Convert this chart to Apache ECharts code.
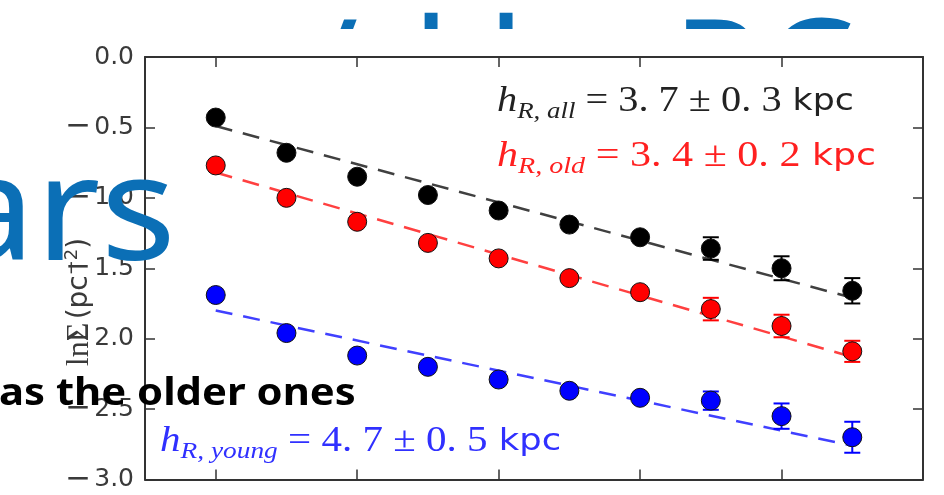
<!DOCTYPE html>
<html><head><meta charset="utf-8">
<script src="https://cdn.jsdelivr.net/npm/echarts@6/dist/echarts.min.js"></script>
<style>html,body{margin:0;padding:0;background:#fff}#c{width:944px;height:495px}</style>
</head><body><div id="c"></div>
<script>
// ---- data ----
const radius = [6.0, 6.5, 7.0, 7.5, 8.0, 8.5, 9.0, 9.5, 10.0, 10.5];
const lnSigmaAll = [-0.43, -0.68, -0.85, -0.98, -1.09, -1.19, -1.28, -1.36, -1.50, -1.66];
const errAll     = [0.02, 0.02, 0.02, 0.02, 0.02, 0.025, 0.03, 0.08, 0.085, 0.09];
const lnSigmaOld = [-0.77, -1.00, -1.17, -1.32, -1.43, -1.57, -1.67, -1.79, -1.91, -2.09];
const errOld     = [0.02, 0.02, 0.02, 0.02, 0.02, 0.025, 0.03, 0.08, 0.08, 0.075];
const lnSigmaYoung = [-1.69, -1.96, -2.12, -2.20, -2.29, -2.37, -2.42, -2.44, -2.55, -2.70];
const errYoung     = [0.02, 0.02, 0.02, 0.02, 0.025, 0.025, 0.03, 0.065, 0.09, 0.11];
// fitted lines: value at first and last radius
const fitAll = [-0.49, -1.71];
const fitOld = [-0.82, -2.13];
const fitYoung = [-1.80, -2.76];
const xTicks = [6, 7, 8, 9, 10, 11];
const yTicks = [0.0, -0.5, -1.0, -1.5, -2.0, -2.5, -3.0];

const BLUE_TITLE = '#0b6fb6';
const axisCol = '#333';

function pts(vals){ return radius.map((r,i)=>[r, vals[i]]); }
function errs(vals, e){ return radius.map((r,i)=>[r, vals[i]-e[i], vals[i]+e[i]]); }
function fit(f){ return [[radius[0], f[0]], [radius[radius.length-1], f[1]]]; }

function errRenderer(color){
  return function(params, api){
    const x = api.value(0), lo = api.value(1), hi = api.value(2);
    const p1 = api.coord([x, hi]), p2 = api.coord([x, lo]);
    const w = 8;
    const st = {stroke: color, lineWidth: 2};
    return {type:'group', children:[
      {type:'line', shape:{x1:p1[0], y1:p1[1], x2:p2[0], y2:p2[1]}, style:st},
      {type:'line', shape:{x1:p1[0]-w, y1:p1[1], x2:p1[0]+w, y2:p1[1]}, style:st},
      {type:'line', shape:{x1:p2[0]-w, y1:p2[1], x2:p2[0]+w, y2:p2[1]}, style:st}
    ]};
  };
}

function scatter(vals, color){
  return {type:'scatter', data: pts(vals), symbolSize: 19, z: 6,
    itemStyle:{color: color, opacity: 1, borderColor:'#111', borderWidth:1}, silent:true};
}
function dashed(f, color){
  return {type:'line', data: fit(f), symbol:'none', z: 4, silent:true,
    lineStyle:{color: color, width: 2.5, type:[17, 11]}};
}
function errSeries(vals, e, color){
  return {type:'custom', data: errs(vals, e), renderItem: errRenderer(color), z: 5, silent:true,
    encode:{x:0, y:[1,2]}};
}

function mathLabel(color, sub, rest, x, y, scaleX){
  const base = {fill: color, lineHeight: 44};
  return {type:'text', x: x, y: y, z: 20, scaleX: scaleX,
    style:{
      text: '{i|h}{s|' + sub + '}{n|' + rest + '}{k| kpc}',
      verticalAlign:'middle',
      rich:{
        i: Object.assign({fontFamily:'Liberation Serif', fontStyle:'italic', fontSize:36}, base),
        s: {fill: color, fontFamily:'Liberation Serif', fontStyle:'italic', fontSize:24, verticalAlign:'bottom'},
        n: Object.assign({fontFamily:'Liberation Serif', fontSize:36}, base),
        k: Object.assign({fontFamily:'DejaVu Sans', fontSize:31}, base)
      }
    }};
}

const chart = echarts.init(document.getElementById('c'), null, {renderer:'canvas'});
chart.setOption({
  backgroundColor:'#ffffff',
  animation:false,
  grid:{left:145, right:21, top:57, bottom:13},
  xAxis:[
    {type:'value', min:5.5, max:11, position:'bottom',
     axisLine:{show:true, onZero:false, lineStyle:{color:axisCol, width:2}},
     axisTick:{show:true, inside:true, length:10, customValues:xTicks, lineStyle:{color:axisCol, width:1.5}},
     axisLabel:{show:false}, splitLine:{show:false}},
    {type:'value', min:5.5, max:11, position:'top',
     axisLine:{show:true, onZero:false, lineStyle:{color:axisCol, width:2}},
     axisTick:{show:true, inside:true, length:10, customValues:xTicks, lineStyle:{color:axisCol, width:1.5}},
     axisLabel:{show:false}, splitLine:{show:false}}
  ],
  yAxis:[
    {type:'value', min:-3, max:0, interval:0.5, position:'left',
     axisLine:{show:true, onZero:false, lineStyle:{color:axisCol, width:2}},
     axisTick:{show:true, inside:true, length:10, lineStyle:{color:axisCol, width:1.5}},
     axisLabel:{show:true, margin:11, fontFamily:'DejaVu Sans', fontSize:25, color:'#3a3a3a',
       customValues: yTicks,
       formatter: v => (Math.abs(v) < 1e-9 ? '{d|0.0}' : '{m|\u2212}{d|' + Math.abs(v).toFixed(1) + '}'),
       rich:{
         m:{fontFamily:'DejaVu Sans', fontSize:31, color:'#3a3a3a', padding:[0,3,0,0]},
         d:{fontFamily:'DejaVu Sans', fontSize:25, color:'#3a3a3a'}
       }},
     splitLine:{show:false}},
    {type:'value', min:-3, max:0, interval:0.5, position:'right',
     axisLine:{show:true, onZero:false, lineStyle:{color:axisCol, width:2}},
     axisTick:{show:true, inside:true, length:10, lineStyle:{color:axisCol, width:1.5}},
     axisLabel:{show:false}, splitLine:{show:false}}
  ],
  series:[
    dashed(fitAll, 'rgba(0,0,0,0.75)'),
    dashed(fitOld, 'rgba(255,0,0,0.75)'),
    dashed(fitYoung, 'rgba(0,0,255,0.75)'),
    errSeries(lnSigmaAll, errAll, '#000000'),
    errSeries(lnSigmaOld, errOld, '#ff0000'),
    errSeries(lnSigmaYoung, errYoung, '#0000ff'),
    scatter(lnSigmaAll, '#000000'),
    scatter(lnSigmaOld, '#ff0000'),
    scatter(lnSigmaYoung, '#0000ff')
  ],
  graphic:[
    // slide title line, mostly hidden behind the chart image
    {type:'text', x:331, y:82, z:-10, style:{text:'/', fontFamily:'Noto Sans', fontSize:146, fill:BLUE_TITLE, align:'center', verticalAlign:'middle'}},
    {type:'text', x:431, y:82, z:-10, style:{text:'l', fontFamily:'Noto Sans', fontSize:146, fill:BLUE_TITLE, align:'center', verticalAlign:'middle'}},
    {type:'text', x:506, y:82, z:-10, style:{text:'l', fontFamily:'Noto Sans', fontSize:146, fill:BLUE_TITLE, align:'center', verticalAlign:'middle'}},
    {type:'text', x:672, y:82, z:-10, style:{text:'RC', fontFamily:'Noto Sans', fontSize:146, fill:BLUE_TITLE, align:'left', verticalAlign:'middle'}},
    // white chart image area that covers it
    {type:'rect', x:0, y:29, z:-5, shape:{x:0, y:0, width:944, height:466}, style:{fill:'#ffffff'}},
    // y axis title
    {type:'text', x:80, y:302, z:8, rotation:Math.PI/2,
     style:{text:'{m|ln\u03A3} {s|(pc}{p|\u22122}{s|)}', align:'center', verticalAlign:'middle',
       rich:{
         m:{fontFamily:'Liberation Serif', fontSize:32, fill:'#3a3a3a', lineHeight:34},
         s:{fontFamily:'DejaVu Sans', fontSize:28, fill:'#3a3a3a', lineHeight:34},
         p:{fontFamily:'DejaVu Sans', fontSize:18, fill:'#3a3a3a', verticalAlign:'top'}
       }}},
    mathLabel('#222222', 'R, all', ' = 3. 7 ± 0. 3', 497, 102, 1.12),
    mathLabel('#ff2020', 'R, old', ' = 3. 4 ± 0. 2', 497, 157, 1.17),
    mathLabel('#3030ff', 'R, young', ' = 4. 7 ± 0. 5', 160, 442, 1.14),
    // slide overlay texts
    {type:'text', x:176, y:218, z:50, scaleX:1.08, style:{text:'ars', fontFamily:'Noto Sans', fontSize:146, fill:BLUE_TITLE, align:'right', verticalAlign:'middle'}},
    {type:'text', x:-1, y:394, z:50, scaleX:1.1, style:{text:'as the older ones', fontFamily:'Noto Sans', fontWeight:'bold', fontSize:38, fill:'#000000', align:'left', verticalAlign:'middle'}}
  ]
});
</script>
</body></html>
